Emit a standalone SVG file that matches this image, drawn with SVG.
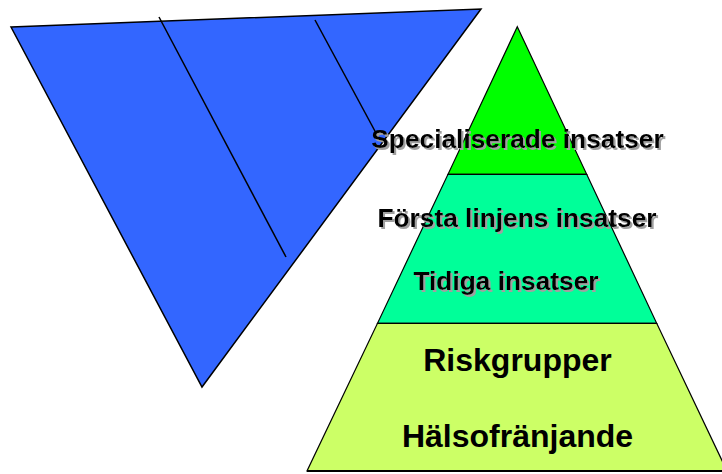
<svg xmlns="http://www.w3.org/2000/svg" width="722" height="474" viewBox="0 0 722 474">
<defs>
<filter id="shadow" x="-5%" y="-20%" width="110%" height="150%">
<feFlood flood-color="#a0a0a0" result="c"/>
<feComposite in="c" in2="SourceAlpha" operator="in" result="s"/>
<feOffset in="s" dx="2" dy="2" result="o"/>
<feMerge><feMergeNode in="o"/><feMergeNode in="SourceGraphic"/></feMerge>
</filter>
</defs>
<style>
.tx{fill:#000000;font-family:"Liberation Sans",Arial,sans-serif;font-weight:bold}
.sd{filter:url(#shadow)}
.sec{stroke:#000000;stroke-width:1.2;stroke-linejoin:miter}
</style>
<rect width="722" height="474" fill="#ffffff"/>
<g id="funnel">
<polygon points="11,27 481,9 202,387" fill="#3366FF" stroke="#000000" stroke-width="1.5"/>
<line x1="159" y1="17" x2="286" y2="257" stroke="#000000" stroke-width="1.5"/>
<line x1="315" y1="20" x2="376" y2="133" stroke="#000000" stroke-width="1.5"/>
</g>
<g id="pyramid-top">
<polygon class="sec" points="517.3,26.7 586.7,174.3 448,174.3" fill="#00FF00"/>
</g>
<g id="pyramid-middle">
<polygon class="sec" points="448,174.3 586.7,174.3 656.7,323.3 377.5,323.3" fill="#00FF99"/>
</g>
<g id="pyramid-bottom">
<polygon class="sec" points="377.5,323.3 656.7,323.3 727,471 307,471" fill="#CCFF66"/>
<line x1="307" y1="471" x2="722" y2="471" stroke="#000000" stroke-width="2"/>
</g>
<g id="labels">
<text class="tx sd" x="517.5" y="148" font-size="26.3" text-anchor="middle">Specialiserade insatser</text>
<text class="tx sd" x="517" y="227" font-size="26.3" text-anchor="middle">Första linjens insatser</text>
<text class="tx sd" x="506" y="290" font-size="26.3" text-anchor="middle">Tidiga insatser</text>
<text class="tx" x="517.5" y="371" font-size="32" text-anchor="middle">Riskgrupper</text>
<text class="tx" x="517.5" y="447" font-size="32" text-anchor="middle">Hälsofränjande</text>
</g>
</svg>
